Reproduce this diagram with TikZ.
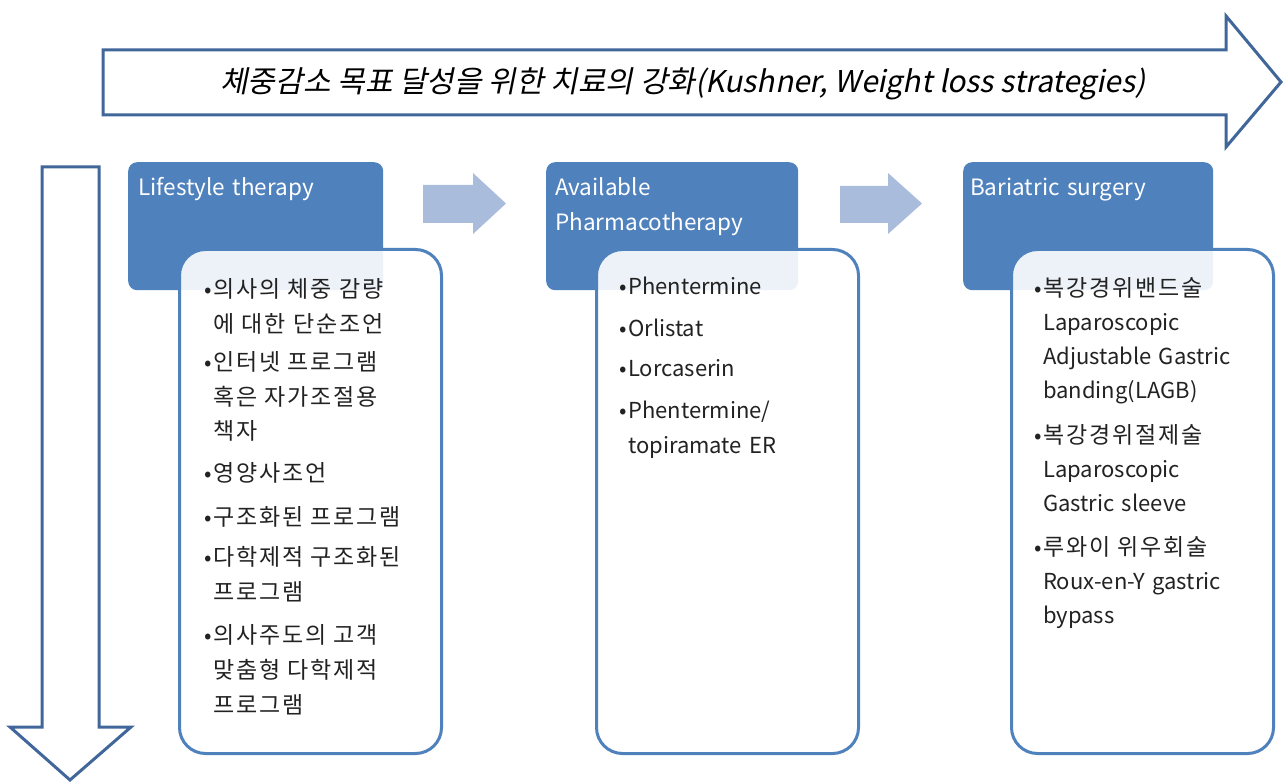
\documentclass[tikz,border=0pt]{standalone}
\usepackage{fontspec}
\setmainfont{Noto Sans CJK KR}
\newfontfamily\titlefont[FakeSlant=0.2]{Noto Sans CJK KR}
\newfontfamily\krfont[LetterSpace=8]{Noto Sans CJK KR}
\definecolor{hdr}{HTML}{4F81BD}
\definecolor{outl}{HTML}{41669A}
\definecolor{lite}{HTML}{A9BCDB}
\definecolor{txt}{HTML}{222222}
\newcommand{\bul}{\llap{{\fontsize{22}{22}\selectfont •}\kern1pt}}
\newcommand{\kr}[1]{{\krfont\fontsize{23}{35}\selectfont #1}}
\begin{document}
\begin{tikzpicture}[x=1pt,y=-1pt,
  bigarrow/.style={draw=outl,line width=3pt,fill=white,line join=miter},
  hdrbox/.style={fill=hdr,rounded corners=9pt,inner sep=0pt,anchor=north west,minimum height=128pt},
  hdrtext/.style={text=white,anchor=base west,inner sep=0pt,align=left,text width=240pt,font=\fontsize{22.5}{35}\selectfont},
  cbox/.style={draw=hdr,line width=3pt,fill=white,fill opacity=0.9,rounded corners=26pt,inner sep=0pt,anchor=north west,minimum width=262pt,minimum height=504pt},
  item/.style={text=txt,anchor=base west,inner sep=0pt,align=left,text width=240pt,font=\fontsize{22}{35}\selectfont},
  itemb/.style={item,font=\fontsize{22}{34}\selectfont},
  flow/.style={fill=lite}]
\useasboundingbox (0,0) rectangle (1284,783);

% top arrow
\draw[bigarrow] (103,50) -- (1226,50) -- (1226,16) -- (1281,82) -- (1226,147) -- (1226,115) -- (103,115) -- cycle;
\node[inner sep=0pt,text=black,font=\titlefont\fontsize{30}{30}\selectfont] (title) at (683,84)
  {체중감소 목표 달성을 위한 치료의 강화(Kushner, Weight loss strategies)};

% down arrow
\draw[bigarrow] (42,167) -- (99,167) -- (99,727) -- (131,727) -- (70,780) -- (10,727) -- (42,727) -- cycle;

% column 1
\node[hdrbox,minimum width=255pt] (h1) at (128,162) {};
\node[hdrtext] (h1t) at (138,196) {Lifestyle therapy};
\node[cbox] (c1) at (178,248) {};
\node[item] (i11) at (213,298) {\bul\kr{의사의 체중 감량}\\\kr{에 대한 단순조언}};
\node[item] (i12) at (213,370) {\bul\kr{인터넷 프로그램}\\\kr{혹은 자가조절용}\\\kr{책자}};
\node[item] (i13) at (213,481) {\bul\kr{영양사조언}};
\node[item] (i14) at (213,525) {\bul\kr{구조화된 프로그램}};
\node[item] (i15) at (213,565) {\bul\kr{다학제적 구조화된}\\\kr{프로그램}};
\node[item] (i16) at (213,643) {\bul\kr{의사주도의 고객}\\\kr{맞춤형 다학제적}\\\kr{프로그램}};

% column 2
\node[hdrbox,minimum width=252pt] (h2) at (546,162) {};
\node[hdrtext] (h2t) at (555,196) {Available\\Pharmacotherapy};
\node[cbox] (c2) at (595,248) {};
\node[item] (i21) at (628,295) {\bul Phentermine};
\node[item] (i22) at (628,336) {\bul Orlistat};
\node[item] (i23) at (628,376) {\bul Lorcaserin};
\node[item] (i24) at (628,418) {\bul Phentermine/\\topiramate ER};

% column 3
\node[hdrbox,minimum width=250pt] (h3) at (963,162) {};
\node[hdrtext] (h3t) at (970,196) {Bariatric surgery};
\node[cbox] (c3) at (1010,248) {};
\node[itemb] (i31) at (1043,297) {\bul\kr{복강경위밴드술}\\Laparoscopic\\Adjustable Gastric\\banding(LAGB)};
\node[itemb] (i32) at (1043,443) {\bul\kr{복강경위절제술}\\Laparoscopic\\Gastric sleeve};
\node[itemb] (i33) at (1043,555) {\bul\kr{루와이 위우회술}\\Roux-en-Y gastric\\bypass};

% flow arrows between stages
\fill[flow] (423,185) -- (473,185) -- (473,173) -- (506,203.5) -- (473,234) -- (473,223) -- (423,223) -- cycle;
\fill[flow] (840,186) -- (888,186) -- (888,173) -- (922,203.5) -- (888,234) -- (888,223) -- (840,223) -- cycle;
\end{tikzpicture}
\end{document}
